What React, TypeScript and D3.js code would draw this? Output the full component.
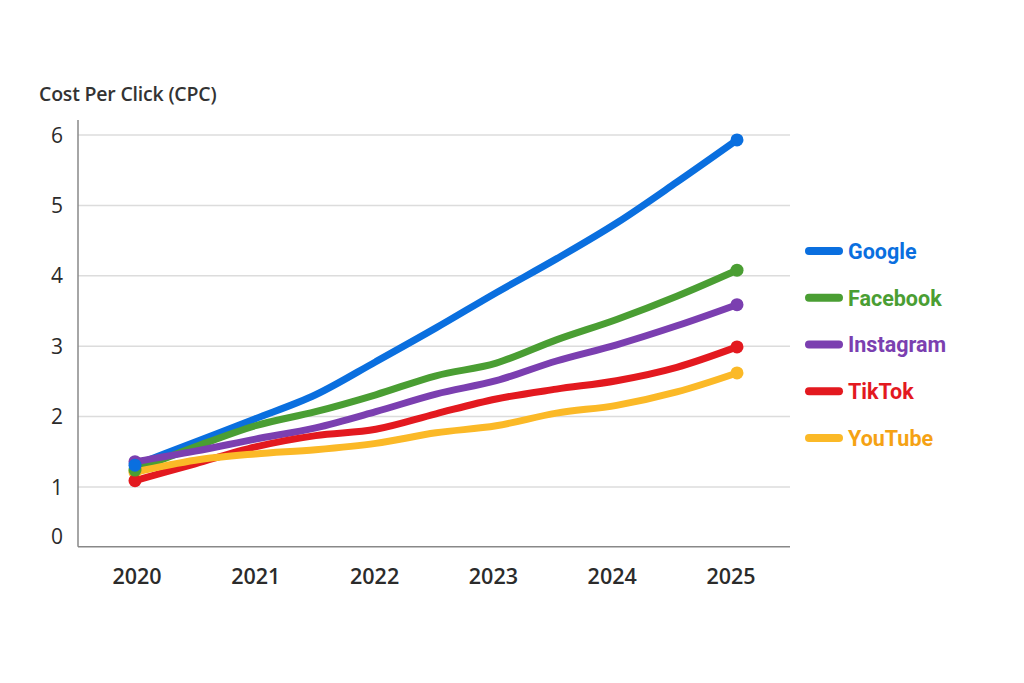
import React from 'react';
import * as d3 from 'd3';

const width = 1024;
const height = 683;

// half-year samples
const times = [2020, 2020.5, 2021, 2021.5, 2022, 2022.5, 2023, 2023.5, 2024, 2024.5, 2025];
const yearTicks = [2020, 2021, 2022, 2023, 2024, 2025];
const valueTicks = [1, 2, 3, 4, 5, 6];

const google = [1.31, 1.64, 1.97, 2.31, 2.78, 3.26, 3.76, 4.24, 4.75, 5.33, 5.93];
const facebook = [1.24, 1.57, 1.87, 2.07, 2.31, 2.58, 2.76, 3.09, 3.38, 3.71, 4.08];
const instagram = [1.36, 1.51, 1.68, 1.84, 2.07, 2.32, 2.51, 2.79, 3.02, 3.29, 3.59];
const tiktok = [1.09, 1.33, 1.57, 1.73, 1.82, 2.04, 2.25, 2.39, 2.51, 2.70, 2.99];
const youtube = [1.21, 1.38, 1.47, 1.53, 1.62, 1.77, 1.87, 2.05, 2.16, 2.35, 2.62];

const seriesNames = ['Google', 'Facebook', 'Instagram', 'TikTok', 'YouTube'];
const seriesValues = [google, facebook, instagram, tiktok, youtube];
const lineColors = ['#0a6fdf', '#4a9e33', '#7b3fb0', '#e3191f', '#fbb927'];
const textColors = ['#0a6fdf', '#4a9e33', '#7b3fb0', '#e3191f', '#f5a214'];

const x = d3.scaleLinear().domain([2020, 2025]).range([135, 737]);
const y = d3.scaleLinear().domain([1, 6]).range([487, 135]);

const axisX = 78;
const axisRight = 790;
const axisBottom = y(0.15);

const line = d3.line<number>()
    .x((_, i) => x(times[i]))
    .y(d => y(d))
    .curve(d3.curveMonotoneX);

const legendY = d3.scalePoint<string>().domain(seriesNames).range([251, 438]);

const labelFont = '"Open Sans", "Noto Sans", sans-serif';

const App = () => (
    <svg width={width} height={height} style={{ position: 'absolute', left: 0, top: 0 }}>
        <rect width={width} height={height} fill="#fff" />
        <text x={39} y={101} fontFamily={labelFont} fontSize={19.5} fontWeight={600} fill="#333"
            letterSpacing={-0.2}>
            Cost Per Click (CPC)
        </text>

        {valueTicks.map(v => (
            <g key={v}>
                <line x1={axisX} x2={axisRight} y1={y(v)} y2={y(v)} stroke="#dcdcdc" strokeWidth={1.5} />
                <text x={63} y={y(v)} dy="0.36em" textAnchor="end" fontFamily={labelFont}
                    fontSize={21} fontWeight={500} fill="#2b2b2b">{v}</text>
            </g>
        ))}
        <text x={63} y={y(0.3)} dy="0.36em" textAnchor="end" fontFamily={labelFont}
            fontSize={21} fontWeight={500} fill="#2b2b2b">0</text>

        <line x1={axisX} x2={axisX} y1={120} y2={axisBottom} stroke="#888" strokeWidth={1.5} />
        <line x1={axisX} x2={axisRight} y1={axisBottom} y2={axisBottom} stroke="#888" strokeWidth={1.5} />

        {yearTicks.map(t => (
            <text key={t} x={x(t) + 2 - (t - 2020) * 1.6} y={584} textAnchor="middle" fontFamily={labelFont}
                fontSize={21.5} fontWeight={600} fill="#2b2b2b">{t}</text>
        ))}

        {seriesValues.map((vals, i) => (
            <g key={seriesNames[i]}>
                <path d={line(vals) ?? ''} fill="none" stroke={lineColors[i]} strokeWidth={7}
                    strokeLinejoin="round" strokeLinecap="round" />
                <circle cx={x(times[times.length - 1])} cy={y(vals[vals.length - 1])} r={6.5} fill={lineColors[i]} />
            </g>
        ))}
        {[...seriesValues].reverse().map((vals, j) => {
            const i = seriesValues.length - 1 - j;
            return <circle key={i} cx={x(times[0])} cy={y(vals[0])} r={6.5} fill={lineColors[i]} />;
        })}

        {seriesNames.map((name, i) => (
            <g key={name} transform={`translate(0,${legendY(name)})`}>
                <line x1={809} x2={839} y1={0} y2={0} stroke={lineColors[i]} strokeWidth={8} strokeLinecap="round" />
                <text x={848} y={0} dy="0.36em" fontFamily='Roboto, "Noto Sans", sans-serif'
                    fontSize={21.5} fontWeight={700} fill={textColors[i]}>{name}</text>
            </g>
        ))}
    </svg>
);

export default App;
